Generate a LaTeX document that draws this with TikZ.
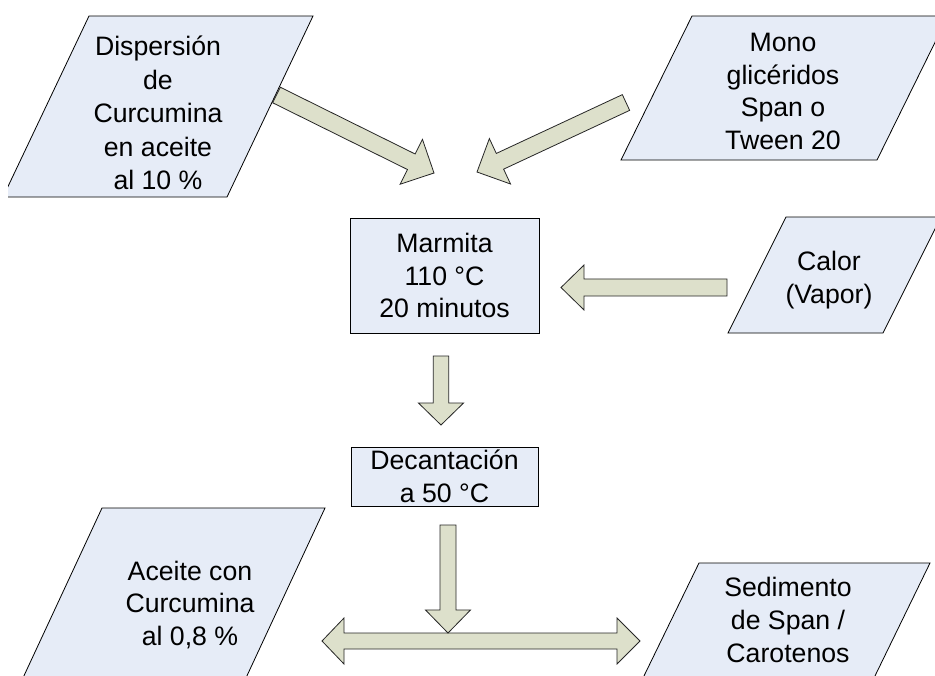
\documentclass[tikz,border=0pt]{standalone}
\usepackage{fontspec}
\setmainfont{Liberation Sans}
\usetikzlibrary{calc}

\definecolor{boxfill}{RGB}{230,236,247}
\definecolor{arrowfill}{RGB}{221,224,203}

\tikzset{
  iobox/.style={draw=black, fill=boxfill, line width=0.6pt, line join=miter},
  procbox/.style={draw=black, fill=boxfill, line width=0.6pt, inner sep=0pt,
    align=center, font=\fontsize{20}{24.5}\selectfont},
  txt/.style={align=center, inner sep=0pt, font=\fontsize{20}{24.5}\selectfont},
  blockarrow/.style={draw=black!85, fill=arrowfill, line width=0.6pt, line join=miter},
}

% block arrow: #1 tail, #2 tip, #3 shaft half width, #4 head half width, #5 head length
\newcommand\flowarrow[5]{%
  \coordinate (fa-base) at ($(#2)!#5!(#1)$);
  \draw[blockarrow]
    ($(#1)!#3!90:(#2)$) -- ($(fa-base)!#3!90:(#2)$) -- ($(fa-base)!#4!90:(#2)$)
    -- (#2)
    -- ($(fa-base)!#4!-90:(#2)$) -- ($(fa-base)!#3!-90:(#2)$) -- ($(#1)!#3!-90:(#2)$)
    -- cycle;
}

\begin{document}
\begin{tikzpicture}[x=0.75pt, y=-0.75pt]
\useasboundingbox (0,0) rectangle (935,675);
\fill[white] (0,0) rectangle (935,675);

\begin{scope}
\clip (8,0) rectangle (935,675);

% input / output parallelograms
\draw[iobox] (89,16) -- (313,16) -- (227,197) -- (3,197) -- cycle;
\draw[iobox] (692,16) -- (948,16) -- (877,160) -- (621,160) -- cycle;
\draw[iobox] (786,217) -- (941,217) -- (883,333) -- (728,333) -- cycle;
\draw[iobox] (102,508) -- (325,508) -- (245,680) -- (22,680) -- cycle;
\draw[iobox] (699,563) -- (930,563) -- (873,680) -- (642,680) -- cycle;

\node[txt, font=\fontsize{20}{25.1}\selectfont] (disp) at (158,113)
  {Dispersión\\de\\Curcumina\\en aceite\\al 10 \%};
\node[txt] (mono) at (783,91.5) {Mono\\glicéridos\\Span o\\Tween 20};
\node[txt] (calor) at (829,280) {Calor\\(Vapor)};
\node[txt] (aceite) at (190,605) {Aceite con\\Curcumina\\al 0,8 \%};
\node[txt] (sedim) at (788,620) {Sedimento\\de Span /\\Carotenos};

% process steps
\node[procbox, minimum width=141.75pt, minimum height=86.25pt] (marmita)
  at (444.5,275.5) {Marmita\\110 °C\\20 minutos};
\node[procbox, minimum width=140.25pt, minimum height=44.25pt] (decant)
  at (444.5,476.5) {Decantación\\a 50 °C};

% arrow end points
\coordinate (a1s) at (276.5,95);   \coordinate (a1e) at (434,173);
\coordinate (a2s) at (626,102.5);  \coordinate (a2e) at (477,172);
\coordinate (a3s) at (727,287.5);  \coordinate (a3e) at (561,287.5);
\coordinate (a4s) at (441,356);    \coordinate (a4e) at (441,425);
\coordinate (a5s) at (448,525);    \coordinate (a5e) at (448,633);
\coordinate (dl) at (322,641);     \coordinate (dr) at (640,641);

\flowarrow{a1s}{a1e}{6.5pt}{18.8pt}{19pt}
\flowarrow{a2s}{a2e}{6.5pt}{18.8pt}{19pt}
\flowarrow{a3s}{a3e}{6.4pt}{16.9pt}{17.3pt}

% split into two outputs
\draw[blockarrow]
  (dl) -- ($(dl)+(22,-23)$) -- ($(dl)+(22,-8)$) -- ($(dr)+(-23,-8)$) -- ($(dr)+(-23,-23)$)
  -- (dr) -- ($(dr)+(-23,23)$) -- ($(dr)+(-23,8)$) -- ($(dl)+(22,8)$) -- ($(dl)+(22,23)$)
  -- cycle;

\flowarrow{a4s}{a4e}{5.8pt}{16.9pt}{16.5pt}
\flowarrow{a5s}{a5e}{6pt}{16.9pt}{17.3pt}
\end{scope}
\end{tikzpicture}
\end{document}
